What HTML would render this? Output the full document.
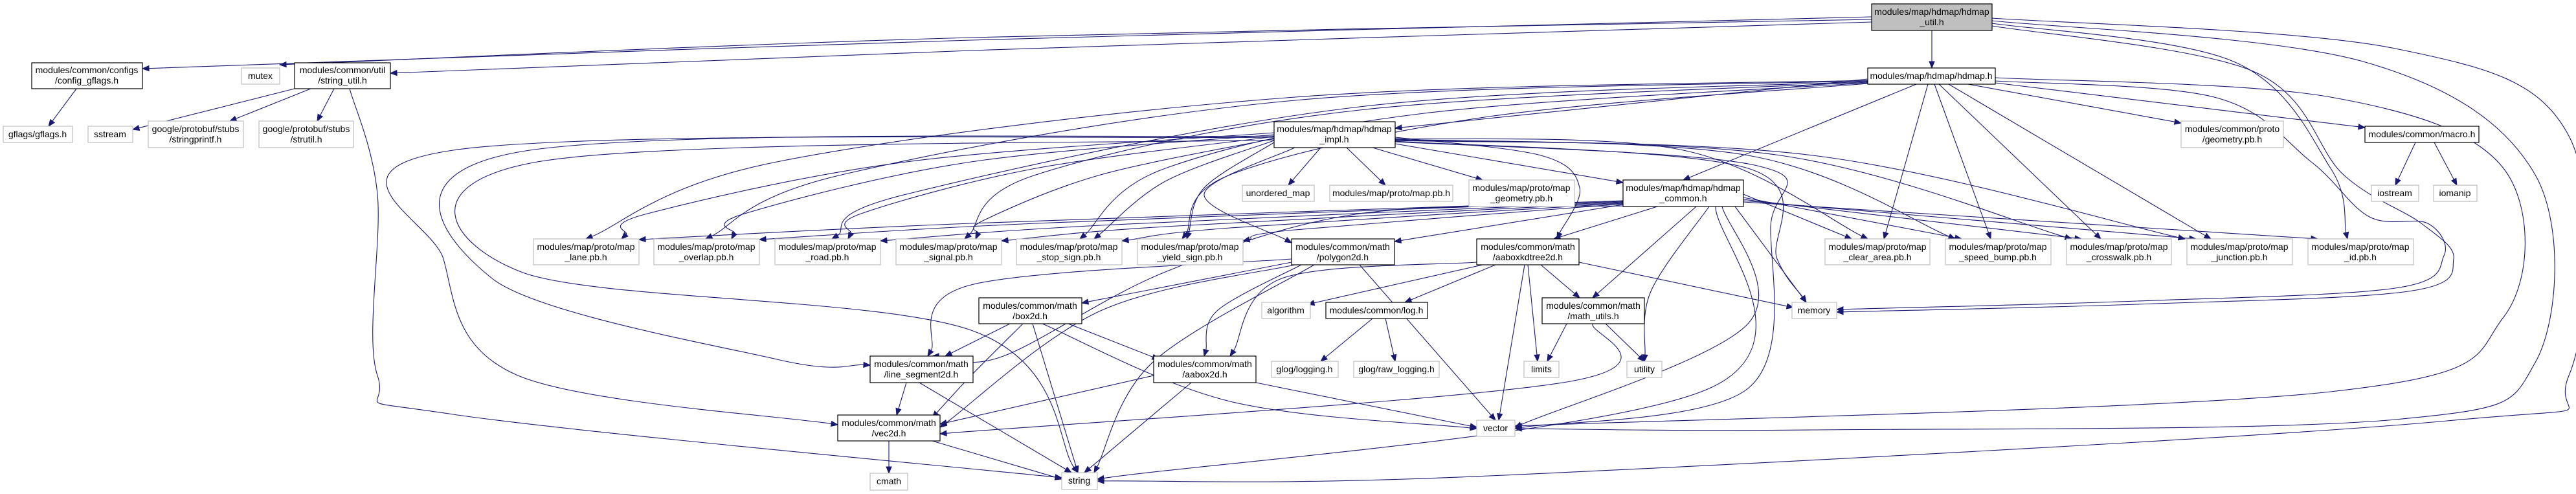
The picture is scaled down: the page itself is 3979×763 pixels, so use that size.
<!DOCTYPE html>
<html><head><meta charset="utf-8">
<style>
html,body{margin:0;padding:0;background:#fff;}
svg{display:block;}
text{font-family:"Liberation Sans",sans-serif;font-size:14px;fill:#000;text-anchor:middle;}
.b{fill:#fff;stroke:#000;stroke-width:1.2;}
.g{fill:#fff;stroke:#bfbfbf;stroke-width:1.2;}
.f{fill:#bfbfbf;stroke:#000;stroke-width:1.2;}
</style></head><body>
<svg id="s" width="3979" height="763" viewBox="0 0 3979 763" xmlns="http://www.w3.org/2000/svg">
<g id="edges" fill="none" stroke="#191970" stroke-width="1.1"></g>
<g id="arrows" fill="#191970" stroke="#191970" stroke-width="1"></g>
<g id="nodes">
<rect class="f" x="2891" y="6" width="186" height="41"/><text x="2984" y="23">modules/map/hdmap/hdmap</text><text x="2984" y="39">_util.h</text>
<rect class="b" x="2885" y="105" width="197" height="25"/><text x="2983" y="122">modules/map/hdmap/hdmap.h</text>
<rect class="b" x="49" y="97" width="171" height="40"/><text x="134" y="113">modules/common/configs</text><text x="134" y="129">/config_gflags.h</text>
<rect class="g" x="373" y="105" width="59" height="25"/><text x="402" y="122">mutex</text>
<rect class="b" x="455" y="97" width="148" height="40"/><text x="529" y="113">modules/common/util</text><text x="529" y="129">/string_util.h</text>
<rect class="g" x="5" y="195" width="107" height="25"/><text x="58" y="212">gflags/gflags.h</text>
<rect class="g" x="136" y="195" width="69" height="25"/><text x="170" y="212">sstream</text>
<rect class="g" x="229" y="187" width="147" height="41"/><text x="302" y="204">google/protobuf/stubs</text><text x="302" y="220">/stringprintf.h</text>
<rect class="g" x="400" y="187" width="146" height="41"/><text x="473" y="204">google/protobuf/stubs</text><text x="473" y="220">/strutil.h</text>
<rect class="b" x="1968" y="188" width="187" height="40"/><text x="2061" y="204">modules/map/hdmap/hdmap</text><text x="2061" y="220">_impl.h</text>
<rect class="g" x="1919" y="286" width="111" height="25"/><text x="1974" y="303">unordered_map</text>
<rect class="g" x="2054" y="286" width="190" height="25"/><text x="2149" y="303">modules/map/proto/map.pb.h</text>
<rect class="g" x="2269" y="278" width="163" height="41"/><text x="2350" y="295">modules/map/proto/map</text><text x="2350" y="311">_geometry.pb.h</text>
<rect class="b" x="2507" y="278" width="186" height="41"/><text x="2600" y="295">modules/map/hdmap/hdmap</text><text x="2600" y="311">_common.h</text>
<rect class="g" x="3369" y="187" width="158" height="41"/><text x="3448" y="204">modules/common/proto</text><text x="3448" y="220">/geometry.pb.h</text>
<rect class="b" x="3653" y="195" width="176" height="25"/><text x="3741" y="212">modules/common/macro.h</text>
<rect class="g" x="3663" y="286" width="73" height="25"/><text x="3699" y="303">iostream</text>
<rect class="g" x="3759" y="286" width="67" height="25"/><text x="3792" y="303">iomanip</text>
<rect class="g" x="824" y="369" width="163" height="40"/><text x="905" y="386">modules/map/proto/map</text><text x="905" y="402">_lane.pb.h</text>
<rect class="g" x="1010" y="369" width="163" height="40"/><text x="1091" y="386">modules/map/proto/map</text><text x="1091" y="402">_overlap.pb.h</text>
<rect class="g" x="1197" y="369" width="163" height="40"/><text x="1278" y="386">modules/map/proto/map</text><text x="1278" y="402">_road.pb.h</text>
<rect class="g" x="1384" y="369" width="163" height="40"/><text x="1465" y="386">modules/map/proto/map</text><text x="1465" y="402">_signal.pb.h</text>
<rect class="g" x="1570" y="369" width="163" height="40"/><text x="1651" y="386">modules/map/proto/map</text><text x="1651" y="402">_stop_sign.pb.h</text>
<rect class="g" x="1757" y="369" width="163" height="40"/><text x="1838" y="386">modules/map/proto/map</text><text x="1838" y="402">_yield_sign.pb.h</text>
<rect class="b" x="1995" y="369" width="159" height="40"/><text x="2074" y="386">modules/common/math</text><text x="2074" y="402">/polygon2d.h</text>
<rect class="b" x="2281" y="369" width="158" height="40"/><text x="2360" y="386">modules/common/math</text><text x="2360" y="402">/aaboxkdtree2d.h</text>
<rect class="g" x="2819" y="369" width="162" height="40"/><text x="2900" y="386">modules/map/proto/map</text><text x="2900" y="402">_clear_area.pb.h</text>
<rect class="g" x="3005" y="369" width="163" height="40"/><text x="3086" y="386">modules/map/proto/map</text><text x="3086" y="402">_speed_bump.pb.h</text>
<rect class="g" x="3192" y="369" width="162" height="40"/><text x="3273" y="386">modules/map/proto/map</text><text x="3273" y="402">_crosswalk.pb.h</text>
<rect class="g" x="3378" y="369" width="163" height="40"/><text x="3459" y="386">modules/map/proto/map</text><text x="3459" y="402">_junction.pb.h</text>
<rect class="g" x="3565" y="369" width="163" height="40"/><text x="3646" y="386">modules/map/proto/map</text><text x="3646" y="402">_id.pb.h</text>
<rect class="b" x="1512" y="460" width="159" height="40"/><text x="1591" y="477">modules/common/math</text><text x="1591" y="493">/box2d.h</text>
<rect class="g" x="1949" y="467" width="75" height="25"/><text x="1986" y="484">algorithm</text>
<rect class="b" x="2048" y="467" width="157" height="25"/><text x="2126" y="484">modules/common/log.h</text>
<rect class="b" x="2382" y="460" width="158" height="40"/><text x="2461" y="477">modules/common/math</text><text x="2461" y="493">/math_utils.h</text>
<rect class="g" x="2768" y="467" width="69" height="25"/><text x="2802" y="484">memory</text>
<rect class="b" x="1344" y="550" width="159" height="41"/><text x="1423" y="567">modules/common/math</text><text x="1423" y="583">/line_segment2d.h</text>
<rect class="b" x="1782" y="550" width="158" height="41"/><text x="1861" y="567">modules/common/math</text><text x="1861" y="583">/aabox2d.h</text>
<rect class="g" x="1964" y="558" width="103" height="25"/><text x="2015" y="575">glog/logging.h</text>
<rect class="g" x="2091" y="558" width="132" height="25"/><text x="2157" y="575">glog/raw_logging.h</text>
<rect class="g" x="2354" y="558" width="54" height="25"/><text x="2381" y="575">limits</text>
<rect class="g" x="2513" y="558" width="54" height="25"/><text x="2540" y="575">utility</text>
<rect class="b" x="1294" y="641" width="158" height="40"/><text x="1373" y="658">modules/common/math</text><text x="1373" y="674">/vec2d.h</text>
<rect class="g" x="2281" y="649" width="59" height="25"/><text x="2310" y="666">vector</text>
<rect class="g" x="1344" y="731" width="58" height="26"/><text x="1373" y="748">cmath</text>
<rect class="g" x="1640" y="730" width="55" height="26"/><text x="1667" y="747">string</text>
</g>
</svg>
<script>
(function(){
var E=[
[[2984,47],[2984,105]],
[[2891,26],[1500,62],[220,106]],
[[2891,30],[1500,58],[432,100]],
[[2891,34],[1500,78],[603,113]],
[[3077,28],[3700,75],[3968,210],[3968,580],[3780,650],[2300,735],[1695,743]],
[[3077,32],[3650,95],[3916,270],[3916,560],[3700,648],[2800,664],[2340,662]],
[[3077,36],[3450,95],[3600,260],[3626,369]],
[[3077,40],[3480,110],[3620,270],[3740,345],[3790,400],[3720,450],[3300,470],[2837,482]],
[[2885,122],[2155,198]],
[[2960,130],[2600,278]],
[[2978,130],[2910,369]],
[[2988,130],[3075,369]],
[[2995,130],[3245,369]],
[[3010,130],[3415,369]],
[[3040,130],[3369,190]],
[[3082,128],[3653,197]],
[[3082,125],[3420,150],[3570,250],[3660,335],[3750,345],[3775,395],[3700,445],[3300,465],[2837,478]],
[[3082,120],[3600,150],[3867,260],[3867,490],[3600,605],[2340,658]],
[[2885,124],[2000,150],[1200,250],[905,369]],
[[2885,125],[2000,155],[1300,270],[1090,369]],
[[2885,126],[2100,165],[1400,300],[1285,369]],
[[2885,127],[2100,170],[1600,270],[1490,369]],
[[2885,128],[2200,175],[1800,260],[1668,369]],
[[2885,129],[2300,180],[1900,270],[1826,369]],
[[2040,228],[1990,286]],
[[2080,228],[2140,286]],
[[2120,228],[2290,278]],
[[2155,222],[2507,282]],
[[2155,212],[2380,240],[2440,290],[2405,369]],
[[2000,228],[1860,300],[1995,375]],
[[1968,205],[1400,250],[1000,330],[960,369]],
[[1968,208],[1500,250],[1150,330],[1130,369]],
[[1968,211],[1600,260],[1330,330],[1310,369]],
[[1968,214],[1700,270],[1520,340],[1507,369]],
[[1968,217],[1800,280],[1690,369]],
[[1968,220],[1860,290],[1833,369]],
[[1968,210],[800,235],[760,430],[1200,555],[1344,564]],
[[1968,212],[700,232],[685,400],[800,580],[1294,656]],
[[1968,216],[830,250],[805,420],[1500,510],[1665,730]],
[[2155,214],[2600,232],[2885,369]],
[[2155,215],[2700,240],[3020,369]],
[[2155,216],[2750,240],[3200,369]],
[[2155,217],[2800,240],[3375,369]],
[[2155,218],[2700,260],[2745,400],[2790,467]],
[[2155,219],[2710,255],[2735,350],[2700,600],[2340,662]],
[[2507,310],[1500,345],[987,370]],
[[2507,311],[1600,345],[1173,370]],
[[2507,312],[1700,348],[1360,372]],
[[2507,313],[1800,350],[1547,372]],
[[2507,314],[1900,352],[1733,372]],
[[2507,315],[2000,355],[1920,372]],
[[2507,316],[2154,373]],
[[2560,319],[2400,369]],
[[2620,319],[2460,460]],
[[2640,319],[2550,450],[2540,558]],
[[2660,319],[2700,500],[2340,660]],
[[2650,319],[2640,600],[1695,740]],
[[2680,319],[2790,467]],
[[2693,300],[2860,369]],
[[2693,305],[3030,369]],
[[2693,308],[3215,369]],
[[2693,310],[3392,369]],
[[2693,312],[3580,369]],
[[2507,318],[2100,330],[1800,420],[1550,550],[1440,550]],
[[1995,405],[1671,468]],
[[1995,400],[1500,440],[1433,550]],
[[2010,409],[1880,480],[1860,550]],
[[2000,409],[1700,480],[1452,660]],
[[2030,409],[1780,560],[1690,730]],
[[2100,409],[2310,649]],
[[2310,409],[2170,467]],
[[2290,409],[2020,470]],
[[2380,409],[2440,460]],
[[2360,409],[2375,558]],
[[2355,409],[2315,649]],
[[2439,405],[2770,475]],
[[2281,405],[1980,430],[1900,550]],
[[1560,500],[1460,550]],
[[1580,500],[1500,580],[1440,645]],
[[1650,500],[1790,555]],
[[1595,500],[1665,730]],
[[1610,500],[1900,620],[2281,662]],
[[1782,580],[1452,655]],
[[1840,591],[1675,730]],
[[1940,591],[2281,660]],
[[1400,591],[1385,641]],
[[1420,591],[1655,730]],
[[1373,681],[1373,731]],
[[1440,681],[1640,740]],
[[2420,500],[2390,558]],
[[2480,500],[2540,558]],
[[2460,500],[2420,590],[1452,670]],
[[2120,492],[2040,558]],
[[2140,492],[2155,558]],
[[3731,220],[3700,286]],
[[3760,220],[3795,286]],
[[118,137],[75,195]],
[[455,137],[205,200]],
[[480,137],[355,187]],
[[516,137],[490,187]],
[[540,137],[583,300],[583,580],[700,640],[1640,738]]
];
var eg=document.getElementById('edges'),ag=document.getElementById('arrows'),NS='http://www.w3.org/2000/svg';
E.forEach(function(P){
 var n=P.length,t=P[n-1],pr=P[n-2];
 var dx=t[0]-pr[0],dy=t[1]-pr[1];
 var L=Math.sqrt(dx*dx+dy*dy)||1;dx/=L;dy/=L;
 var e=[t[0]-dx*10,t[1]-dy*10];
 var pts=P.slice(0,n-1).concat([e]);
 var d='M'+pts[0][0]+','+pts[0][1];
 if(pts.length==2){d+=' L'+e[0]+','+e[1];}
 else{
  for(var i=0;i<pts.length-1;i++){
   var p0=pts[i-1]||pts[i],p1=pts[i],p2=pts[i+1],p3=pts[i+2]||pts[i+1];
   var c1=[p1[0]+(p2[0]-p0[0])/6,p1[1]+(p2[1]-p0[1])/6];
   var c2=[p2[0]-(p3[0]-p1[0])/6,p2[1]-(p3[1]-p1[1])/6];
   d+=' C'+c1[0]+','+c1[1]+' '+c2[0]+','+c2[1]+' '+p2[0]+','+p2[1];
  }
 }
 var p=document.createElementNS(NS,'path');p.setAttribute('d',d);eg.appendChild(p);
 var a=document.createElementNS(NS,'polygon');
 var px=-dy,py=dx;
 a.setAttribute('points',t[0]+','+t[1]+' '+(e[0]+px*4)+','+(e[1]+py*4)+' '+(e[0]-px*4)+','+(e[1]-py*4));
 ag.appendChild(a);
});
})();
</script>
</body></html>
